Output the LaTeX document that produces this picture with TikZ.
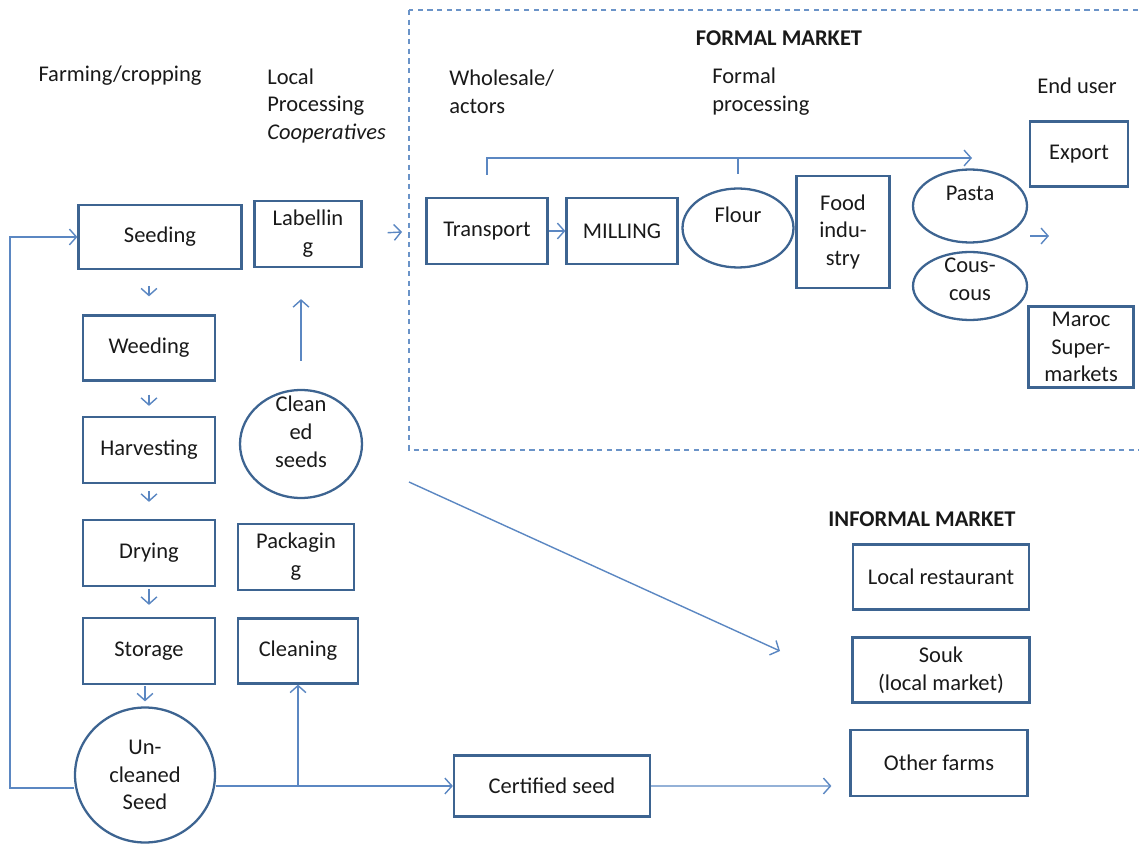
\documentclass[tikz,border=0pt]{standalone}
\usepackage{fontspec}
\setmainfont{Carlito}
\usetikzlibrary{arrows.meta,shapes.geometric}
\definecolor{bdr}{HTML}{3D6491}
\definecolor{arw}{HTML}{5B87C2}
\definecolor{dsh}{HTML}{6A93C8}

\begin{document}
\begin{tikzpicture}[x=0.02cm,y=-0.02cm,
  every node/.style={font=\fontsize{12.8}{15.8}\selectfont,text=black!90},
  bx/.style 2 args={draw=bdr,line width=1.3pt,align=center,inner sep=0pt,
             minimum width=#1,minimum height=#2},
  el/.style 2 args={ellipse,draw=bdr,line width=1.3pt,align=center,inner sep=0pt,
             minimum width=#1,minimum height=#2},
  ar/.style={draw=arw,line width=0.8pt,-{Straight Barb[length=4pt,width=9pt]}},
  ln/.style={draw=arw,line width=0.8pt},
  hd/.style={align=left,inner sep=0pt}]
  \useasboundingbox (0,0) rectangle (1139,844);
  \draw[dsh,line width=1pt,dash pattern=on 3pt off 2.5pt] (409,10) rectangle (1150,450);
  % farm column
  \node[bx={3.26cm}{1.28cm}] (seed) at (160,237) {Seeding};
  \node[bx={2.64cm}{1.30cm}] (weed) at (149,348) {Weeding};
  \node[bx={2.64cm}{1.32cm}] (harv) at (149,450) {Harvesting};
  \node[bx={2.64cm}{1.32cm}] (dry) at (149,553) {Drying};
  \node[bx={2.64cm}{1.32cm}] (stor) at (149,651) {Storage};
  \node[el={2.8cm}{2.7cm}] (unc) at (145,775) {Un-\\cleaned\\Seed};
  % cooperatives
  \node[bx={2.14cm}{1.32cm}] (lab) at (308,234) {Labellin\\g};
  \node[el={2.44cm}{2.16cm},label={[align=center,yshift=0.24cm]center:{Clean\\ed\\seeds}}] (cls) at (301,444) {};
  \node[bx={2.32cm}{1.32cm}] (pack) at (296,557) {Packagin\\g};
  \node[bx={2.4cm}{1.30cm}] (clean) at (298,651) {Cleaning};
  % formal market
  \node[bx={2.42cm}{1.32cm}] (trans) at (487,231) {Transport};
  \node[bx={2.22cm}{1.32cm}] (mill) at (622,231) {MILLING};
  \node[el={2.22cm}{1.58cm},label={[yshift=0.26cm]center:Flour}] (flour) at (738,228) {};
  \node[bx={1.86cm}{2.24cm}] (food) at (843,232) {Food\\indu-\\stry};
  \node[el={2.28cm}{1.46cm},label={[yshift=0.26cm]center:Pasta}] (pasta) at (970,206) {};
  \node[el={2.28cm}{1.36cm},label={[align=center,yshift=0.14cm]center:{Cous-\\cous}}] (cous) at (970,286) {};
  \node[bx={1.96cm}{1.30cm}] (exp) at (1079,154) {Export};
  \node[bx={2.1cm}{1.62cm}] (maroc) at (1081,347) {Maroc\\Super-\\markets};
  % informal market
  \node[bx={3.92cm}{1.22cm}] (cert) at (552,786) {Certified seed};
  \node[bx={3.52cm}{1.30cm}] (rest) at (941,577) {Local restaurant};
  \node[bx={3.54cm}{1.30cm}] (souk) at (941,670) {Souk\\(local market)};
  \node[bx={3.54cm}{1.32cm}] (farms) at (939,763) {Other farms};
  % headings
  \node[hd] (hfarm) at (120,76) {Farming/cropping};
  \node[hd,anchor=west] (hloc) at (267,106) {Local\\Processing\\\textit{Cooperatives}};
  \node[hd,anchor=west] (hwhole) at (449,92) {Wholesale/\\actors};
  \node[hd,anchor=west] (hform) at (712,92) {Formal\\processing};
  \node[hd] (hend) at (1077,86) {End user};
  \node[hd] (hfm) at (779,38) {\bfseries FORMAL MARKET};
  \node[hd] (him) at (922,519) {\bfseries INFORMAL MARKET};
  % connectors
  \foreach \a/\b/\s/\e in {seed/weed/0.32/0.36,weed/harv/0.26/0.2,harv/dry/0.14/0.34,
                           dry/stor/0.04/0.24,stor/unc/0.02/0.1}
    \draw[ar,shorten <=\s cm,shorten >=\e cm] (\a.south -| \b.north) -- (\b.north);
  \draw[ar,shorten <=0.56cm,shorten >=0.62cm] (cls.north) -- (cls.north |- lab.south);
  \coordinate (fin) at (402,232);
  \draw[ar,shorten <=0.5cm] (lab.east) -- (fin);
  \draw[ar] (trans) -- (mill);
  \coordinate (top) at (972,158);
  \draw[ar] ([yshift=0.44cm]trans.north) |- (top);
  \draw[ln] (flour.north |- top) -- ([yshift=0.26cm]flour.north);
  \coordinate (ea) at (1030,236);
  \coordinate (eb) at (1049,236);
  \draw[ar] (ea) -- (eb);
  \coordinate (da) at (409,482);
  \coordinate (db) at (780,651);
  \draw[ar] (da) -- (db);
  \coordinate (lp) at (10,788);
  \draw[ar] (unc.west |- lp) -- (lp) |- (seed.west);
  \draw[ar] (unc.east |- cert.west) -- (cert.west);
  \draw[ar] (clean.south |- cert.west) -- (clean.south);
  \draw[ar] (cert.east) -- ([xshift=-0.36cm,yshift=-0.46cm]farms.west);
\end{tikzpicture}
\end{document}
